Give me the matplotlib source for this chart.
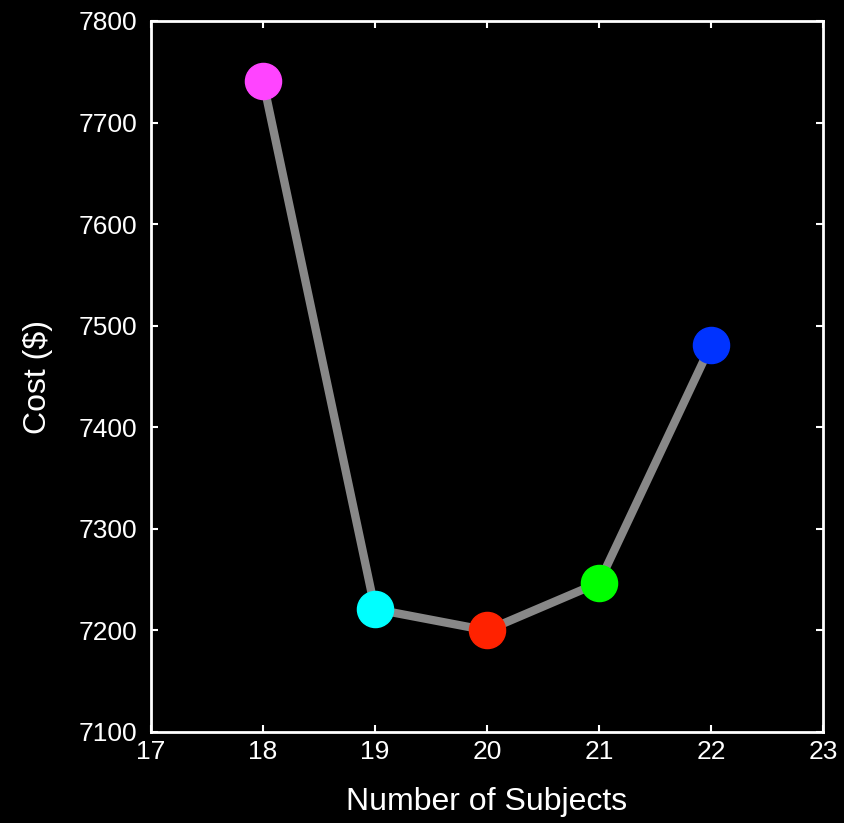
import matplotlib
matplotlib.use("Agg")
import matplotlib.pyplot as plt

subjects = [18, 19, 20, 21, 22]
cost = [7741, 7221, 7200, 7247, 7481]
point_colors = ["#ff44ff", "#00ffff", "#ff2200", "#00ff00", "#0033ff"]

plt.rcParams['font.family'] = ['Liberation Sans', 'DejaVu Sans']

fig = plt.figure(figsize=(8.44, 8.23), dpi=100, facecolor="black")
ax = fig.add_axes([151 / 844, 1 - 732 / 823, (823 - 151) / 844, (732 - 21) / 823])
ax.set_facecolor("black")

ax.plot(subjects, cost, color="#888888", linewidth=6, zorder=1)
for x, y, c in zip(subjects, cost, point_colors):
    ax.plot(x, y, "o", color=c, markersize=26, zorder=2)

ax.set_xlim(17, 23)
ax.set_ylim(7100, 7800)
ax.set_xticks(range(17, 24))
ax.set_yticks(range(7100, 7801, 100))

for s in ax.spines.values():
    s.set_color("white")
    s.set_linewidth(2)
ax.tick_params(direction="in", length=5, width=1.5, colors="white",
               top=True, right=True, labelsize=19)
ax.tick_params(axis="y", pad=10)
ax.tick_params(axis="x", pad=6)

ax.set_xlabel("Number of Subjects", color="white", fontsize=23, labelpad=16)
ax.set_ylabel("Cost ($)", color="white", fontsize=23, labelpad=18)

fig.savefig("out.png", dpi=100, facecolor="black")
